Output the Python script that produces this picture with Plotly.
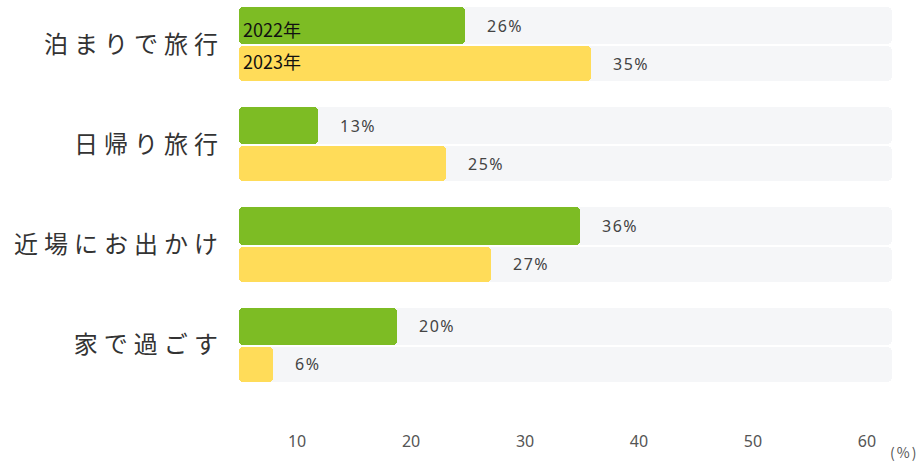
import plotly.graph_objects as go

categories = ["泊まりで旅行", "日帰り旅行", "近場にお出かけ", "家で過ごす"]
series_names = ["2022年", "2023年"]
# bar ends read against the x axis
bar_2022 = [24.7, 11.8, 34.8, 18.8]
bar_2023 = [35.8, 23.1, 27.0, 7.9]
# printed value labels
label_2022 = ["26%", "13%", "36%", "20%"]
label_2023 = ["35%", "25%", "27%", "6%"]
x_ticks = [10, 20, 30, 40, 50, 60]
x_start = 4.9
x_end = 62.2

GREEN = "#7dbc24"
YELLOW = "#ffdc59"
TRACK = "#f5f6f8"


def spaced(t, px):
    return f'<span style="letter-spacing:{px}px">{t}</span>'


pos = list(range(len(categories)))
fig = go.Figure()

# background tracks
for off, w in [(-0.37, 0.37), (0.02, 0.35)]:
    fig.add_trace(go.Bar(
        y=pos, x=[x_end - x_start] * len(pos), base=x_start, orientation="h",
        offset=off, width=w, marker=dict(color=TRACK, cornerradius=5, line=dict(width=0)),
        hoverinfo="skip", showlegend=False))

fig.add_trace(go.Bar(
    y=pos, x=[v - x_start for v in bar_2022], base=x_start, orientation="h",
    offset=-0.37, width=0.37, name=series_names[0],
    marker=dict(color=GREEN, cornerradius=4, line=dict(width=0)), showlegend=False))
fig.add_trace(go.Bar(
    y=pos, x=[v - x_start for v in bar_2023], base=x_start, orientation="h",
    offset=0.02, width=0.35, name=series_names[1],
    marker=dict(color=YELLOW, cornerradius=4, line=dict(width=0)), showlegend=False))

pct_font = dict(family="Noto Sans", size=16, color="#444444")
ann = []
for i in pos:
    ann.append(dict(x=bar_2022[i], y=i, xref="x", yref="y", text=spaced(label_2022[i], 1.5),
                    xanchor="left", yanchor="middle", xshift=20, yshift=18.5,
                    showarrow=False, font=pct_font))
    ann.append(dict(x=bar_2023[i], y=i, xref="x", yref="y", text=spaced(label_2023[i], 1.5),
                    xanchor="left", yanchor="middle", xshift=20, yshift=-19.5,
                    showarrow=False, font=pct_font))
# series names inside first group
ann.append(dict(x=x_start, y=0, xref="x", yref="y", text=series_names[0], xanchor="left",
                yanchor="middle", xshift=2, yshift=15, showarrow=False,
                font=dict(family="Noto Sans CJK JP", size=18, color="#111111")))
ann.append(dict(x=x_start, y=0, xref="x", yref="y", text=series_names[1], xanchor="left",
                yanchor="middle", xshift=2, yshift=-17, showarrow=False,
                font=dict(family="Noto Sans CJK JP", size=18, color="#111111")))
ann.append(dict(x=1.019, y=-0.052, xref="paper", yref="paper", text=spaced("(%)", 2),
                xanchor="center", yanchor="middle", showarrow=False,
                font=dict(family="Noto Sans CJK JP", size=14, color="#555555")))

fig.update_layout(
    width=922, height=463,
    margin=dict(l=239, r=30, t=0, b=33),
    paper_bgcolor="white", plot_bgcolor="white",
    barmode="overlay", bargap=0,
    annotations=ann,
    xaxis=dict(range=[x_start, x_end], tickvals=x_ticks, showgrid=False, zeroline=False,
               showline=False, ticks="", tickfont=dict(family="Noto Sans", size=16, color="#555555"),
               fixedrange=True),
    yaxis=dict(range=[3.85, -0.44], tickvals=pos, ticktext=[spaced(c, 6) for c in categories],
               showgrid=False, zeroline=False, showline=False, ticks="", ticklabelstandoff=14,
               tickfont=dict(family="Noto Sans CJK JP", size=24, color="#333333"),
               fixedrange=True),
)

fig.write_html("out.html", post_script="document.body.style.margin='0';",
               config={"displayModeBar": False})
